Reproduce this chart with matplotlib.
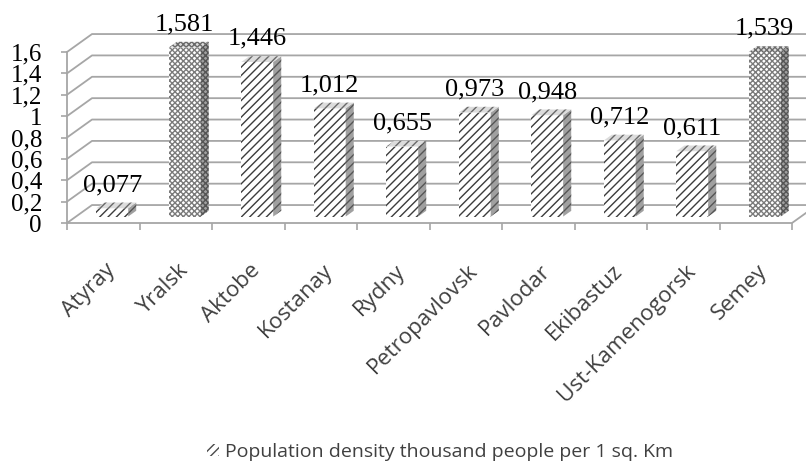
import matplotlib.pyplot as plt
from matplotlib.patches import Polygon, Rectangle
import numpy as np

cities = ['Atyray', 'Yralsk', 'Aktobe', 'Kostanay', 'Rydny', 'Petropavlovsk',
          'Pavlodar', 'Ekibastuz', 'Ust-Kamenogorsk', 'Semey']
density = [0.077, 1.581, 1.446, 1.012, 0.655, 0.973, 0.948, 0.712, 0.611, 1.539]
value_labels = ['0,077', '1,581', '1,446', '1,012', '0,655', '0,973', '0,948',
                '0,712', '0,611', '1,539']
y_ticks = [0, 0.2, 0.4, 0.6, 0.8, 1.0, 1.2, 1.4, 1.6]
y_tick_labels = ['0', '0,2', '0,4', '0,6', '0,8', '1', '1,2', '1,4', '1,6']
legend_label = 'Population density thousand people per 1 sq. Km'

# depth of the fake 3d box, in data units (categories / values)
DX = 0.345
DY = 0.168
F0, F1 = 0.36, 0.68      # front / back depth of the bars
BAR_W = 0.44
GRID = '#a6a6a6'

fig = plt.figure(figsize=(8.06, 4.63), dpi=100)
ax = fig.add_axes([67 / 806, 1 - 223 / 463, 725 / 806, 171 / 463])
ax.set_xlim(0, len(cities))
ax.set_ylim(0, 1.6)
for s in ax.spines.values():
    s.set_visible(False)

n = len(cities)

# side wall + back wall grid lines
for v in y_ticks:
    ax.plot([0, DX, n + DX], [v, v + DY, v + DY], color=GRID, lw=1.3,
            clip_on=False, zorder=1)

# floor front edge and right slant
ax.plot([0, n, n + DX], [0, 0, DY], color=GRID, lw=1.3, clip_on=False, zorder=5)
ax.plot([0, 0], [0, 1.6], color=GRID, lw=1.3, clip_on=False, zorder=5)

x = np.arange(n) + 0.5 - BAR_W / 2 + F0 * DX
hatches = ['////'] * n
hatch_cols = ['#3c3c3c'] * n
for i in (1, 9):
    hatches[i] = 'xxxxxx'
    hatch_cols[i] = '#7a7a7a'

bars = ax.bar(x, density, width=BAR_W, bottom=F0 * DY, align='edge',
              color='white', linewidth=0, zorder=3)
for b, h, c in zip(bars, hatches, hatch_cols):
    b.set_hatch(h)
    b.set_edgecolor(c)
    b.set_clip_on(False)

ddx = (F1 - F0) * DX
ddy = (F1 - F0) * DY
for i, v in enumerate(density):
    x0 = x[i]
    x1 = x0 + BAR_W
    y0 = F0 * DY
    top = y0 + v
    side = Polygon([(x1, y0), (x1 + ddx, y0 + ddy), (x1 + ddx, top + ddy), (x1, top)],
                   closed=True, facecolor='#a0a0a0', edgecolor='#555555',
                   hatch=hatches[i], lw=0, clip_on=False, zorder=3)
    lid = Polygon([(x0, top), (x1, top), (x1 + ddx, top + ddy), (x0 + ddx, top + ddy)],
                  closed=True, facecolor='#dcdcdc', edgecolor='#6a6a6a',
                  hatch=hatches[i], lw=0, clip_on=False, zorder=3)
    ax.add_patch(side)
    ax.add_patch(lid)
    ax.text(x0 + BAR_W / 2, top + ddy + 0.06, value_labels[i],
            ha='center', va='bottom', fontsize=19, family='Liberation Serif',
            color='black', zorder=6)

# y axis
ax.set_yticks(y_ticks, y_tick_labels, fontsize=18, family='Liberation Serif')
ax.tick_params(axis='y', length=4, width=1.2, color=GRID, pad=14, left=True)

# category boundaries as minor ticks, labels on major ticks
ax.set_xticks(np.arange(n + 1), minor=True)
ax.set_xticks(np.arange(n) + 0.62)
ax.set_xticklabels(cities, rotation=45, ha='right', va='center',
                   rotation_mode='anchor', fontsize=16, family='Open Sans',
                   color='#404040')
ax.tick_params(axis='x', which='major', length=0, pad=32)
ax.tick_params(axis='x', which='minor', length=5, width=1.2, color=GRID)

handle = Rectangle((0, 0), 1, 1, facecolor='white', edgecolor='#4a4a4a',
                   hatch='////', lw=0)
fig.legend([handle], [legend_label], loc='center',
           bbox_to_anchor=(440 / 806, 1 - 452 / 463), frameon=False,
           handlelength=0.6, handleheight=0.6, handletextpad=0.3,
           prop={'family': 'Open Sans', 'size': 14}, labelcolor='#404040')

fig.savefig('out.png', dpi=100)
